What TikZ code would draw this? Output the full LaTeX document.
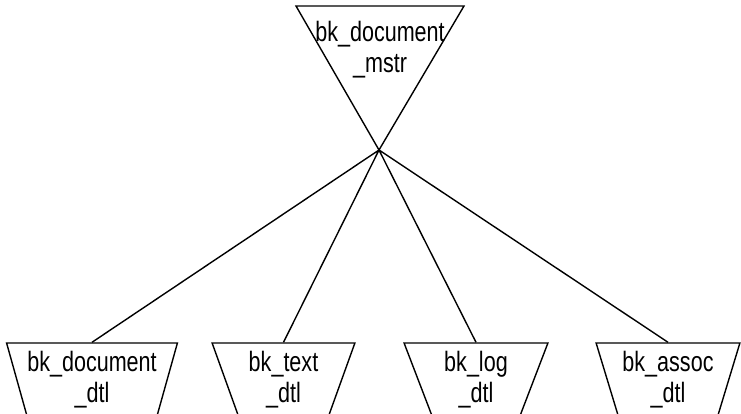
\documentclass[tikz,border=0pt]{standalone}
\usepackage{fontspec}
\setmainfont{Liberation Sans}
\newfontfamily\tblfont[FakeStretch=0.77]{Liberation Sans}
\usetikzlibrary{shapes.geometric}

\tikzset{
  lbl/.style={align=center, inner sep=0pt, font=\tblfont\fontsize{28}{31}\selectfont},
  tbl/.style={lbl, draw, line width=1.4pt, trapezium, trapezium angle=70,
    shape border rotate=180, trapezium stretches=true, minimum height=74pt},
  link/.style={line width=1.4pt},
}

\begin{document}
\begin{tikzpicture}[x=1pt,y=1pt]
    \useasboundingbox (0,0) rectangle (741,-414);
    \clip (0,0) rectangle (741,-414);
    % master
    \draw[link] (296,-6) -- (464,-6) -- (379,-150) coordinate (apex) -- cycle;
    \node[lbl] (mstr) at (380,-50) {bk\_document\\\_mstr};
    % details
    \node[tbl, minimum width=168pt] (dtl1) at (92,-380) {bk\_document\\\_dtl};
    \node[tbl, minimum width=143pt] (dtl2) at (283.5,-380) {bk\_text\\\_dtl};
    \node[tbl, minimum width=144pt] (dtl3) at (476,-380) {bk\_log\\\_dtl};
    \node[tbl, minimum width=144pt] (dtl4) at (668,-380) {bk\_assoc\\\_dtl};
    \draw[link]
    (apex) -- (dtl1.north)
    (apex) -- (dtl2.north)
    (apex) -- (dtl3.north)
    (apex) -- (dtl4.north)
    ;
\end{tikzpicture}
\end{document}
